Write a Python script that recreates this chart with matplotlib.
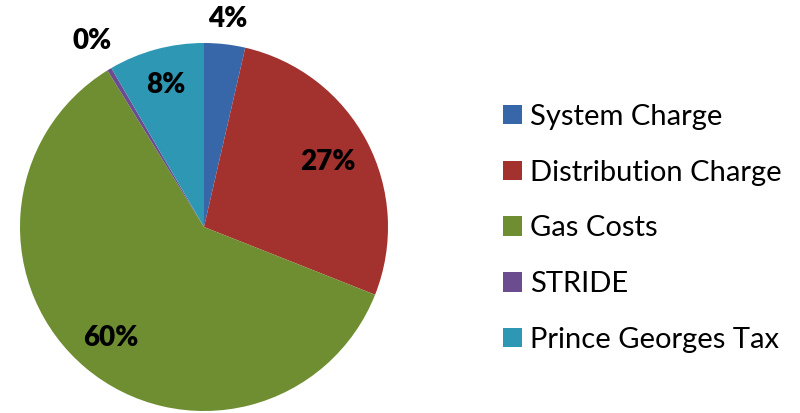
import matplotlib.pyplot as plt
from matplotlib.patches import Patch
import numpy as np

categories = ['System Charge', 'Distribution Charge', 'Gas Costs', 'STRIDE', 'Prince Georges Tax']
shares = [3.6, 27.4, 60.2, 0.4, 8.4]
colors = ['#3767A8', '#A3322F', '#6E8E31', '#6A4C8F', '#2D97B4']
label_dist = [1.14, 0.76, 0.79, 1.18, 0.80]

plt.rcParams['font.family'] = ['Lato', 'DejaVu Sans']

fig = plt.figure(figsize=(8, 4.13), dpi=100)
ax = fig.add_axes([20 / 800, 2 / 413, 368 / 800, 368 / 413])

wedges, _, autotexts = ax.pie(shares, colors=colors, startangle=90, counterclock=False,
                              autopct='%.0f%%', pctdistance=0.78, radius=1,
                              textprops=dict(fontsize=20, fontweight='heavy', color='black'))
for w, t, d in zip(wedges, autotexts, label_dist):
    mid = np.deg2rad((w.theta1 + w.theta2) / 2)
    t.set_position((d * np.cos(mid), d * np.sin(mid)))
ax.set_xlim(-1, 1)
ax.set_ylim(-1, 1)
ax.set_aspect('equal')

handles = [Patch(facecolor=c, edgecolor='none') for c in colors]
fig.legend(handles, categories, loc='center left', bbox_to_anchor=(477 / 800, 0.447),
           frameon=False, fontsize=21, handlelength=0.65, handleheight=0.65,
           handletextpad=0.28, labelspacing=1.02)

fig.savefig('out.png', dpi=100)
